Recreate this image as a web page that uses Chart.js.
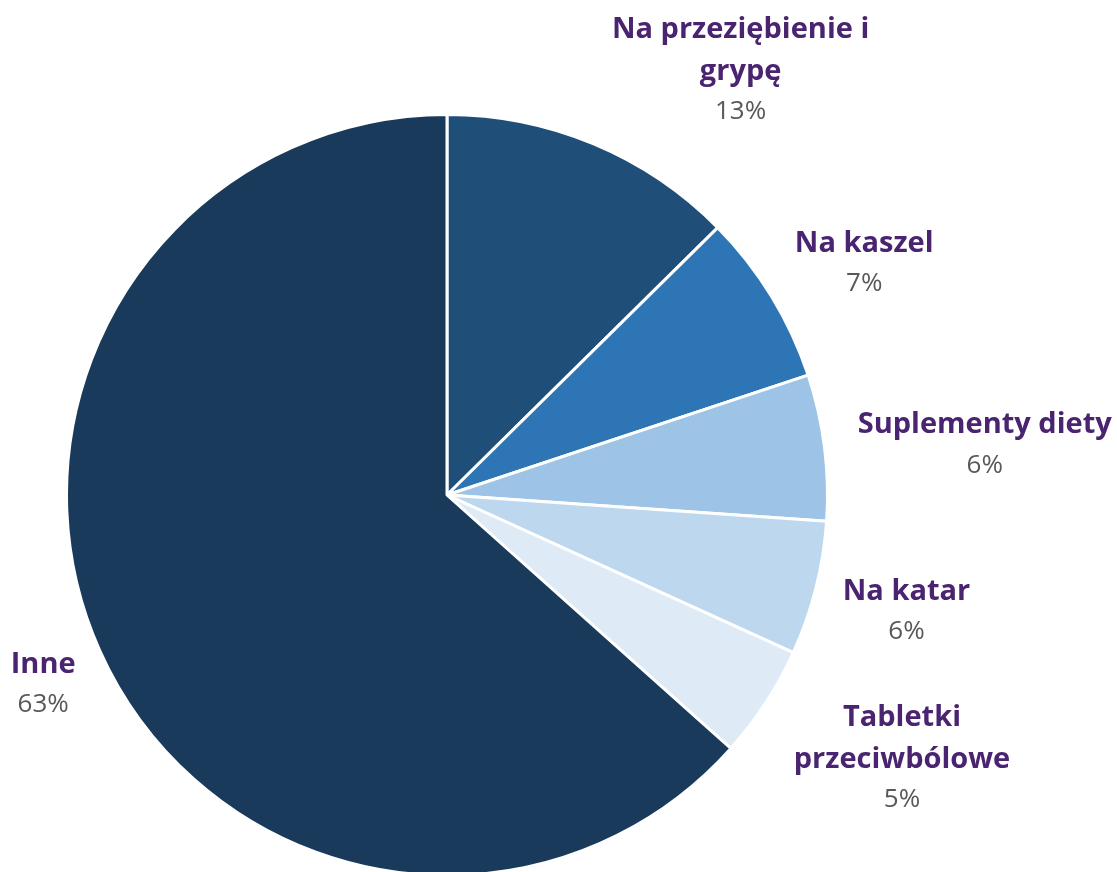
<!DOCTYPE html>
<html>
<head>
<meta charset="utf-8">
<title>Pie</title>
<script src="https://cdn.jsdelivr.net/npm/chart.js@4.4.1/dist/chart.umd.min.js"></script>
<style>
  html, body { margin: 0; padding: 0; background: #fff; overflow: hidden; }
  #wrap { width: 1117px; height: 880px; }
</style>
</head>
<body>
<div id="wrap"><canvas id="pie" width="1117" height="880"></canvas></div>
<script>
// data (clockwise from 12 o'clock)
var categories = [
  ['Na przeziębienie i', 'grypę'],
  ['Na kaszel'],
  ['Suplementy diety'],
  ['Na katar'],
  ['Tabletki', 'przeciwbólowe'],
  ['Inne']
];
var shares = [12.6, 7.3, 6.2, 5.7, 4.8, 63.4];
var colors = ['#1F4E79', '#2E75B6', '#9DC3E6', '#BDD7EE', '#DEEBF7', '#193A5A'];

// where each label sits: distance from centre and angle tweak (deg)
var labelPlace = [[516, 12], [477, 2.5], [540, 1.9], [474, 0], [526, -3], [446, -1]];

var outsideLabels = {
  id: 'outsideLabels',
  afterDraw: function(chart) {
    var ctx = chart.ctx;
    var meta = chart.getDatasetMeta(0);
    var total = shares.reduce(function(a, b) { return a + b; }, 0);
    ctx.save();
    ctx.textAlign = 'center';
    ctx.textBaseline = 'middle';
    meta.data.forEach(function(arc, i) {
      var mid = (arc.startAngle + arc.endAngle) / 2 + labelPlace[i][1] * Math.PI / 180;
      var d = labelPlace[i][0];
      var x = arc.x + Math.cos(mid) * d;
      var y = arc.y + Math.sin(mid) * d;
      var lines = categories[i];
      var h = (lines.length - 1) * 42 + 40;
      var top = y - h / 2;
      ctx.fillStyle = '#4A2470';
      ctx.font = 'bold 29px "Open Sans"';
      lines.forEach(function(t, k) {
        ctx.fillText(t, x, top + k * 42);
      });
      ctx.fillStyle = '#595959';
      ctx.font = '26px "Open Sans"';
      ctx.fillText(Math.round(shares[i] / total * 100) + '%', x, top + (lines.length - 1) * 42 + 40);
    });
    ctx.restore();
  }
};

new Chart(document.getElementById('pie'), {
  type: 'pie',
  data: {
    labels: categories,
    datasets: [{
      data: shares,
      backgroundColor: colors,
      borderColor: '#ffffff',
      borderWidth: 3
    }]
  },
  options: {
    responsive: false,
    animation: false,
    layout: { padding: { top: 113, bottom: 3, left: 65, right: 288 } },
    plugins: {
      legend: { display: false },
      tooltip: { enabled: false }
    }
  },
  plugins: [outsideLabels]
});
</script>
</body>
</html>
